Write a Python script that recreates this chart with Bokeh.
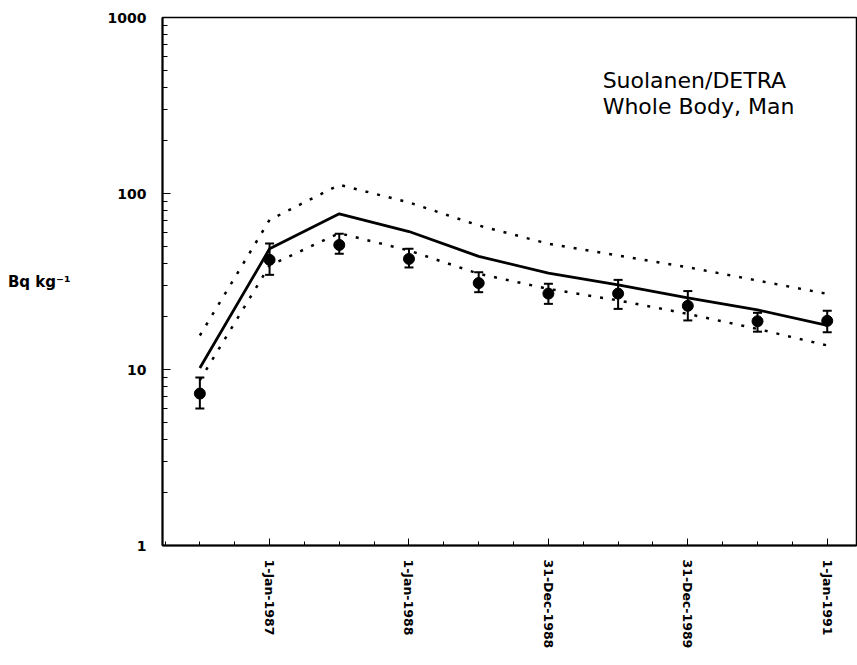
from bokeh.plotting import figure
from bokeh.models import ColumnDataSource, FixedTicker, Whisker, TeeHead, Label, Range1d
from bokeh.embed import file_html
from bokeh.resources import INLINE

# Sampling dates as decimal years (every half year, mid-1986 to 1991)
dates = [1986.5, 1987.0, 1987.5, 1988.0, 1988.5, 1989.0, 1989.5, 1990.0, 1990.5, 1991.0]

# Measured whole-body concentrations (Bq/kg) with their error range
observed = [7.3, 42.0, 51.0, 42.5, 31.0, 27.0, 27.0, 23.0, 18.8, 18.9]
obs_low = [6.0, 34.5, 45.5, 38.0, 27.5, 23.6, 22.1, 19.0, 16.4, 16.3]
obs_high = [9.0, 52.0, 59.0, 48.5, 35.7, 30.7, 32.3, 27.9, 21.0, 21.6]

# Model prediction and its confidence band
predicted = [10.2, 48.5, 76.7, 60.8, 43.9, 35.3, 30.3, 25.5, 21.8, 17.8]
pred_upper = [15.6, 70.8, 112.0, 89.0, 65.8, 51.8, 44.4, 38.1, 32.0, 26.9]
pred_lower = [8.7, 39.0, 59.5, 47.4, 35.0, 28.7, 24.7, 20.7, 17.0, 13.7]

# Axis ticks
x_ticks = [1987.0, 1988.0, 1989.0, 1990.0, 1991.0]
x_tick_labels = ["1-Jan-1987", "1-Jan-1988", "31-Dec-1988", "31-Dec-1989", "1-Jan-1991"]
x_minor = [1986.25 + 0.25 * i for i in range(20)]
y_ticks = [1, 10, 100, 1000]
y_tick_labels = ["1", "10", "100", "1000"]
y_minor = [m * 10 ** d for d in range(3) for m in range(2, 10)]

title_lines = ["Suolanen/DETRA", "Whole Body, Man"]
y_title = "Bq kg\u207b\u00b9"

FONT = "DejaVu Sans"

src = ColumnDataSource(dict(x=dates, obs=observed, lo=obs_low, hi=obs_high,
                            pred=predicted, up=pred_upper, dn=pred_lower))

p = figure(width=857, height=665, y_axis_type="log",
           x_range=Range1d(1986.232, 1991.21), y_range=Range1d(1, 1000),
           output_backend="svg", toolbar_location=None,
           min_border_left=162, min_border_right=1,
           min_border_top=17, min_border_bottom=120)
p.xgrid.visible = False
p.ygrid.visible = False
p.outline_line_color = "black"
p.outline_line_width = 1.5
p.background_fill_color = "white"
p.border_fill_color = "white"

# Confidence band (dotted) and central prediction (solid)
p.line("x", "up", source=src, line_color="black", line_width=2.5, line_dash="3 9")
p.line("x", "dn", source=src, line_color="black", line_width=2.5, line_dash="3 9")
p.line("x", "pred", source=src, line_color="black", line_width=2.8)

# Measurements with error bars
p.add_layout(Whisker(base="x", lower="lo", upper="hi", source=src, dimension="height",
                     line_color="black", line_width=2,
                     lower_head=TeeHead(size=9, line_width=2, line_color="black"),
                     upper_head=TeeHead(size=9, line_width=2, line_color="black")))
p.scatter("x", "obs", source=src, size=11, marker="circle",
          fill_color="black", line_color="black")

# Bottom axis
xa = p.xaxis[0]
xa.ticker = FixedTicker(ticks=x_ticks, minor_ticks=x_minor)
xa.major_label_overrides = dict(zip(x_ticks, x_tick_labels))
xa.major_label_orientation = "vertical"
xa.major_label_text_font = FONT
xa.major_label_text_font_style = "bold"
xa.major_label_text_font_size = "12.5px"
xa.major_label_text_color = "black"
xa.major_label_standoff = 14
xa.major_tick_in = 7
xa.major_tick_out = 0
xa.minor_tick_in = 4
xa.minor_tick_out = 0
xa.axis_line_width = 2

# Left axis, with a horizontal unit label
ya = p.yaxis[0]
ya.ticker = FixedTicker(ticks=y_ticks, minor_ticks=y_minor)
ya.major_label_overrides = dict(zip(y_ticks, y_tick_labels))
ya.major_label_text_font = FONT
ya.major_label_text_font_style = "bold"
ya.major_label_text_font_size = "14px"
ya.major_label_text_color = "black"
ya.major_label_standoff = 16
ya.major_tick_in = 8
ya.major_tick_out = 0
ya.minor_tick_in = 5
ya.minor_tick_out = 0
ya.axis_line_width = 2
ya.axis_label = y_title
ya.axis_label_orientation = "horizontal"
ya.axis_label_standoff = 34
ya.axis_label_text_font = FONT
ya.axis_label_text_font_style = "bold"
ya.axis_label_text_font_size = "15px"
ya.axis_label_text_color = "black"

# Title block inside the plot
for text, yv in zip(title_lines, [438.0, 312.0]):
    p.add_layout(Label(x=1989.389, y=yv, text=text, text_align="left",
                       text_baseline="middle", text_font=FONT,
                       text_font_size="22px", text_color="black"))

open("out.html", "w").write(file_html(p, INLINE))
